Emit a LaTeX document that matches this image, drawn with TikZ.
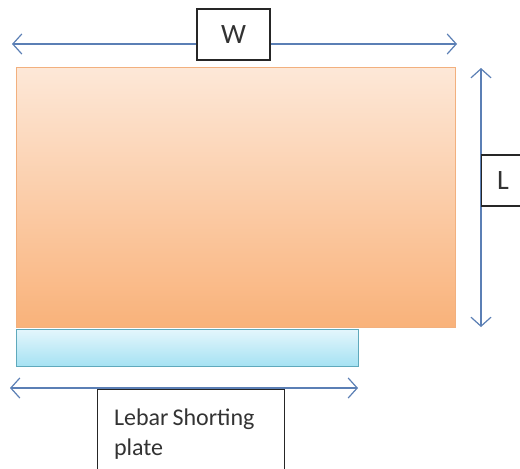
\documentclass[tikz,border=0pt]{standalone}
\usepackage{fontspec}
\setmainfont{Carlito}
\usetikzlibrary{arrows.meta}
\definecolor{arrowblue}{HTML}{5B7FB5}
\definecolor{patchtop}{HTML}{FDE8D8}
\definecolor{patchbot}{HTML}{F9B27A}
\definecolor{patchedge}{HTML}{F2B07E}
\definecolor{platetop}{HTML}{E4F6FC}
\definecolor{platebot}{HTML}{A6E2F3}
\definecolor{plateedge}{HTML}{5FA9BC}
\tikzset{
  dimarrow/.style={draw=arrowblue, line width=1.2pt, {Straight Barb[length=9pt,width=20pt]}-{Straight Barb[length=9pt,width=20pt]}},
  labelbox/.style={draw=black!85, line width=1.1pt, fill=white, text=black!80, font=\fontsize{24}{30}\selectfont},
  biglabel/.style={font=\fontsize{28}{34}\selectfont},
  patch/.style={draw=patchedge, line width=0.8pt, top color=patchtop, bottom color=patchbot},
  plate/.style={draw=plateedge, line width=0.8pt, top color=platetop, bottom color=platebot}
}
\begin{document}
\begin{tikzpicture}[x=1pt,y=-1pt]
\useasboundingbox (0,0) rectangle (520,469);
\fill[white] (0,0) rectangle (520,469);
% patch and shorting plate
\path[patch] (16,67) rectangle (455,327);
\path[plate] (16,329) rectangle (358,366);
% dimension arrows
\coordinate (wl) at (12,44);
\coordinate (wr) at (457,44);
\coordinate (lt) at (481,68);
\coordinate (lb) at (481,327);
\coordinate (sl) at (10,388);
\coordinate (sr) at (358,388);
\draw[dimarrow] (wl) -- (wr);
\draw[dimarrow] (lt) -- (lb);
\draw[dimarrow] (sl) -- (sr);
% label boxes
\node[labelbox, biglabel, minimum width=73pt, minimum height=51pt, inner sep=0pt] (W) at (233.5,34.5) {W};
\node[labelbox, biglabel, minimum width=46pt, minimum height=51pt, inner sep=0pt, anchor=west] (L) at (481,180.5) {\hspace*{-3pt}L};
\node[labelbox, minimum width=187pt, minimum height=90pt, inner sep=0pt, anchor=north west, align=left, text width=172pt] (S) at (97,389)
  {\spaceskip=4pt\vspace*{-2pt}\hspace*{9pt}Lebar Shorting\\[2pt] \hspace*{9pt}plate\\[12pt]};
\end{tikzpicture}
\end{document}
